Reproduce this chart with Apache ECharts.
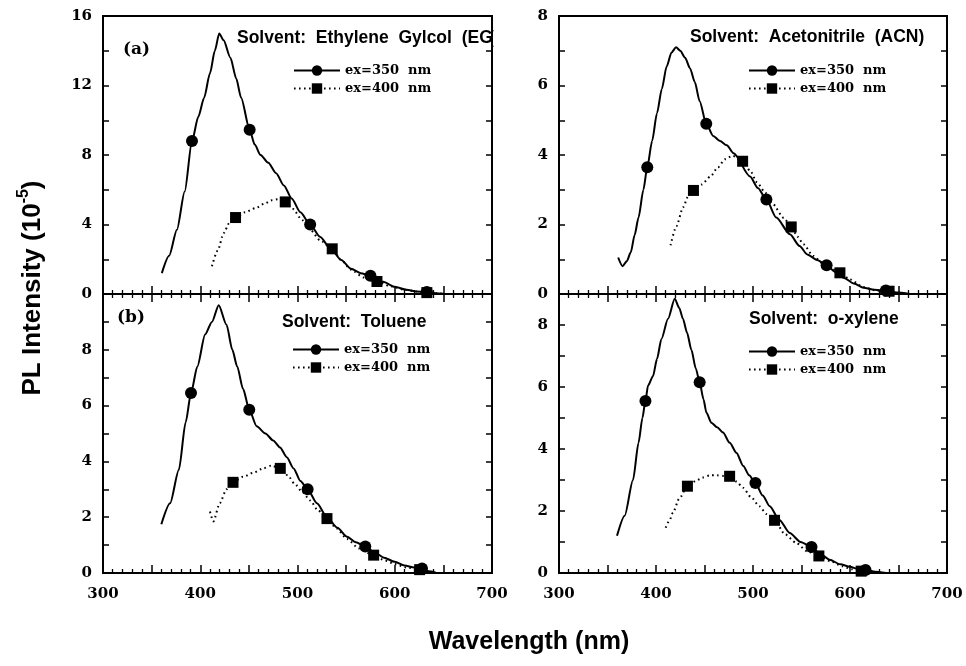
<!DOCTYPE html>
<html>
<head>
<meta charset="utf-8">
<script src="https://cdn.jsdelivr.net/npm/echarts@6/dist/echarts.min.js"></script>
<style>
  html, body { margin: 0; padding: 0; background: #fff; }
  #chart { width: 966px; height: 666px; }
</style>
</head>
<body>
<div id="chart"></div>
<script>
// ---- Emission spectra, intensities in units of 1e-5 ----
// Each trace: a dense curve plus the points carrying markers.

// (a) Ethylene glycol
const egEx350Line = [[360.5,1.2],[368,2.2],[376,3.7],[384,5.9],[398,10.2],[404,11.3],[410,12.7],[415,14.0],[419.5,15.0],[424,14.6],[431,13.6],[437,12.4],[442,11.3],[456,8.6],[462,8.0],[470,7.55],[478,6.95],[486,6.25],[494,5.5],[503,4.7],[523,3.3],[534,2.62],[545,1.95],[555,1.45],[565,1.2],[588,0.7],[600,0.42],[612,0.25],[622,0.15],[642,0.05],[650,0.02]];
const egEx350Marks = [[391.5,8.8],[450.8,9.45],[513,4.0],[575,1.05],[633,0.12]];
const egEx400Line = [[412,1.6],[418,2.5],[424,3.5],[430,4.1],[446,4.7],[457,4.95],[466,5.2],[474,5.4],[480,5.45],[495,4.9],[505,4.25],[514,3.65],[523,3.1],[545,1.95],[555,1.4],[568,0.95],[595,0.45],[610,0.25],[622,0.14],[645,0.03],[652,0]];
const egEx400Marks = [[436.3,4.4],[487.4,5.3],[535.7,2.6],[581.7,0.72],[633,0.08]];

// Acetonitrile
const acnEx350Line = [[361,1.05],[365.6,0.8],[370,0.95],[374,1.2],[378,1.7],[382,2.2],[387,3.0],[396,4.4],[401,5.2],[406,5.9],[411,6.55],[416,6.95],[420.7,7.1],[425,7.0],[430,6.8],[435,6.5],[440,6.1],[445,5.55],[459,4.55],[466,4.4],[473,4.28],[480,4.05],[497,3.38],[505,3.05],[524,2.2],[538,1.72],[548,1.38],[556,1.14],[566,0.98],[585,0.63],[594,0.46],[604,0.3],[614,0.18],[625,0.12],[648,0.04],[662,0]];
const acnEx350Marks = [[391,3.65],[451.8,4.9],[513.8,2.72],[575.9,0.83],[636.9,0.1]];
const acnEx400Line = [[415,1.4],[421,1.95],[428,2.5],[433,2.8],[447,3.15],[456,3.38],[464,3.65],[471,3.88],[479,3.98],[497,3.55],[504,3.22],[511,2.98],[520,2.6],[531.7,2.19],[546,1.65],[552,1.43],[562,1.1],[572,0.88],[580,0.74],[600,0.42],[614,0.2],[627,0.1],[656,0]];
const acnEx400Marks = [[438.6,2.98],[489.3,3.82],[539.4,1.93],[589.6,0.61],[640.3,0.08]];

// (b) Toluene
const tolEx350Line = [[360,1.75],[369,2.5],[378,3.7],[385,5.4],[397,7.4],[405,8.55],[412,9.0],[419,9.6],[427,8.9],[433,8.0],[438,7.4],[444,6.6],[458,5.26],[467,5.0],[475,4.75],[482,4.5],[489,4.15],[496,3.75],[503,3.3],[520,2.5],[530,2.02],[541,1.62],[551,1.3],[560,1.1],[580,0.72],[589,0.55],[600,0.4],[610,0.27],[620,0.2],[635,0.06],[642,0.02]];
const tolEx350Marks = [[390.5,6.45],[450.4,5.85],[510.4,3.0],[569.7,0.95],[628,0.16]];
const tolEx400Line = [[410,2.2],[413.5,1.85],[420,2.5],[427,3.0],[444,3.45],[455,3.6],[465,3.75],[473,3.85],[490,3.5],[497,3.2],[505,2.9],[513,2.6],[521,2.25],[540,1.6],[551,1.22],[563,0.88],[590,0.45],[600,0.32],[612,0.2],[635,0.04],[642,0]];
const tolEx400Marks = [[433.7,3.25],[482.3,3.75],[530.3,1.95],[578.3,0.64],[625.6,0.12]];

// o-Xylene
const oxyEx350Line = [[359.8,1.2],[367.7,1.85],[376.3,3.0],[382,4.2],[386,5.0],[391.8,6.05],[396.9,6.35],[401,6.9],[405.6,7.55],[412.4,8.2],[419.3,8.85],[424,8.55],[427.8,8.2],[432,7.75],[436.5,7.2],[441,6.6],[449,5.6],[451.9,5.18],[457.1,4.85],[463,4.7],[469.1,4.53],[476,4.2],[482.9,3.88],[490,3.45],[496,3.15],[510,2.5],[517.3,2.15],[527,1.72],[537.9,1.29],[549,1.0],[570,0.6],[579,0.43],[590,0.28],[600,0.2],[608,0.13],[626,0.04],[637,0]];
const oxyEx350Marks = [[389.1,5.55],[445,6.15],[502.5,2.9],[560.3,0.84],[616,0.1]];
const oxyEx400Line = [[410,1.46],[414,1.7],[417.5,1.95],[424,2.4],[441.6,2.98],[448,3.08],[455.4,3.15],[463,3.15],[470,3.13],[483,2.95],[489.6,2.75],[498,2.45],[506.7,2.15],[514,1.9],[533,1.25],[544.5,0.97],[556,0.7],[580,0.38],[592,0.22],[602,0.12],[620,0.02],[627,0]];
const oxyEx400Marks = [[432.4,2.8],[475.9,3.12],[522.2,1.7],[567.9,0.55],[611.5,0.06]];

// Series names, panel titles and tick labels
const seriesNames = ['ex=350  nm', 'ex=400  nm'];
const panelTitles = ['Solvent:  Ethylene  Gylcol  (EG)', 'Solvent:  Acetonitrile  (ACN)', 'Solvent:  Toluene', 'Solvent:  o-xylene'];
const panelTags = ['(a)', '', '(b)', ''];
const xTickLabels = [300, 400, 500, 600, 700];
const egYTickLabels = [0, 4, 8, 12, 16];
const acnYTickLabels = [0, 2, 4, 6, 8];
const tolYTickLabels = [0, 2, 4, 6, 8];
const oxyYTickLabels = [0, 2, 4, 6, 8];

// ---- Layout ----
const panels = [
  { left: 103, top: 16,  width: 389, height: 278, yMax: 16, yStep: 2, yLabels: egYTickLabels,  showX: false,
    ex350: [egEx350Line, egEx350Marks], ex400: [egEx400Line, egEx400Marks],
    title: { x: 237, y: 39 }, tag: { x: 123, y: 51 }, legend: { x: 293, y: 64 } },
  { left: 559, top: 16,  width: 388, height: 278, yMax: 8,  yStep: 1, yLabels: acnYTickLabels, showX: false,
    ex350: [acnEx350Line, acnEx350Marks], ex400: [acnEx400Line, acnEx400Marks],
    title: { x: 690, y: 38 }, tag: null, legend: { x: 748, y: 64 } },
  { left: 103, top: 294, width: 389, height: 279, yMax: 10, yStep: 1, yLabels: tolYTickLabels, showX: true,
    ex350: [tolEx350Line, tolEx350Marks], ex400: [tolEx400Line, tolEx400Marks],
    title: { x: 282, y: 323 }, tag: { x: 117, y: 319 }, legend: { x: 292, y: 343 } },
  { left: 559, top: 294, width: 388, height: 279, yMax: 9,  yStep: 1, yLabels: oxyYTickLabels, showX: true,
    ex350: [oxyEx350Line, oxyEx350Marks], ex400: [oxyEx400Line, oxyEx400Marks],
    title: { x: 749, y: 320 }, tag: null, legend: { x: 748, y: 345 } }
];

const SERIF = '"DejaVu Serif", "Liberation Serif", serif';
const SANS = '"Liberation Sans", Arial, sans-serif';

// Merge curve and marker points; only marker points get a symbol.
function traceData(line, marks) {
  const pts = line.map(p => ({ value: p, symbol: 'none' }))
    .concat(marks.map(p => ({ value: p })));
  pts.sort((a, b) => a.value[0] - b.value[0]);
  return pts;
}

const grid = [], xAxis = [], yAxis = [], series = [], legend = [], graphic = [];

panels.forEach((p, i) => {
  grid.push({ left: p.left, top: p.top, width: p.width, height: p.height, show: true,
              borderColor: '#000', borderWidth: 2, backgroundColor: 'transparent', outerBoundsMode: 'none' });

  // bottom x axis
  xAxis.push({
    type: 'value', gridIndex: i, min: 300, max: 700, interval: 50, position: 'bottom',
    axisLine: { show: true, onZero: false, lineStyle: { color: '#000', width: 2 } },
    axisTick: { show: true, inside: true, length: 8, lineStyle: { color: '#000', width: 1.5 } },
    minorTick: { show: true, splitNumber: 5, length: 4, lineStyle: { color: '#000', width: 1.3 } },
    splitLine: { show: false },
    axisLabel: {
      show: p.showX, margin: 14, color: '#000', fontFamily: SERIF, fontWeight: 'bold', fontSize: 15,
      formatter: v => (xTickLabels.indexOf(v) >= 0 ? String(v) : '')
    }
  });
  // left y axis
  yAxis.push({
    type: 'value', gridIndex: i, min: 0, max: p.yMax, interval: p.yStep, position: 'left',
    axisLine: { show: true, onZero: false, lineStyle: { color: '#000', width: 2 } },
    axisTick: { show: true, inside: true, length: 6, lineStyle: { color: '#000', width: 1.5 } },
    splitLine: { show: false },
    axisLabel: {
      margin: 11, color: '#000', fontFamily: SERIF, fontWeight: 'bold', fontSize: 15,
      formatter: v => (p.yLabels.indexOf(v) >= 0 ? String(v) : '')
    }
  });

  const styles = [
    { name: seriesNames[0], trace: p.ex350, symbol: 'circle', size: 12, line: { color: '#000', width: 2, type: 'solid' } },
    { name: seriesNames[1], trace: p.ex400, symbol: 'rect', size: 11, line: { color: '#000', width: 2, type: [1.6, 3.4] } }
  ];
  styles.forEach(s => {
    series.push({
      type: 'line', name: s.name, xAxisIndex: i, yAxisIndex: i,
      data: traceData(s.trace[0], s.trace[1]),
      smooth: 0.25, smoothMonotone: 'x',
      symbol: s.symbol, symbolSize: s.size, showSymbol: true, showAllSymbol: true,
      lineStyle: s.line, itemStyle: { color: '#000' },
      emphasis: { disabled: true }, animation: false
    });
  });

  legend.push({
    orient: 'vertical', left: p.legend.x, top: p.legend.y, data: seriesNames,
    itemWidth: 46, itemHeight: 13, itemGap: 5, selectedMode: false, padding: 0,
    textStyle: { color: '#000', fontFamily: SERIF, fontWeight: 'bold', fontSize: 13 }
  });

  graphic.push({
    type: 'text', left: p.title.x, top: p.title.y - 10, z: 10,
    style: { text: panelTitles[i], fill: '#000', font: 'bold 17.5px ' + SANS }
  });
  if (p.tag) {
    graphic.push({
      type: 'text', left: p.tag.x, top: p.tag.y - 10, z: 10,
      style: { text: panelTags[i], fill: '#000', font: 'bold 17px ' + SERIF }
    });
  }
});

// the long EG title runs into the frame; blank what spills past it
graphic.push({
  type: 'rect', left: 493.5, top: 26, z: 20,
  shape: { width: 16, height: 28 }, style: { fill: '#fff' }
});

// mirrored tick axes on the top and right edges
panels.forEach((p, i) => {
  xAxis.push({
    type: 'value', gridIndex: i, min: 300, max: 700, interval: 50, position: 'top',
    axisLine: { show: false },
    axisTick: { show: !p.showX, inside: true, length: 8, lineStyle: { color: '#000', width: 1.5 } },
    minorTick: { show: !p.showX, splitNumber: 5, length: 4, lineStyle: { color: '#000', width: 1.3 } },
    splitLine: { show: false }, axisLabel: { show: false }
  });
  yAxis.push({
    type: 'value', gridIndex: i, min: 0, max: p.yMax, interval: p.yStep, position: 'right',
    axisLine: { show: false },
    axisTick: { show: true, inside: true, length: 6, lineStyle: { color: '#000', width: 1.5 } },
    splitLine: { show: false }, axisLabel: { show: false }
  });
});

// shared axis titles
graphic.push({
  type: 'text', x: 31, y: 288, rotation: Math.PI / 2, z: 10,
  style: {
    text: '{t|PL Intensity (10}{s|-5}{t|)}',
    align: 'center', verticalAlign: 'middle',
    rich: {
      t: { fontFamily: SANS, fontWeight: 'bold', fontSize: 26, lineHeight: 30, fill: '#000', verticalAlign: 'bottom' },
      s: { fontFamily: SANS, fontWeight: 'bold', fontSize: 16, lineHeight: 16, fill: '#000', verticalAlign: 'top' }
    }
  }
});
graphic.push({
  type: 'text', x: 529, y: 642, z: 10,
  style: { text: 'Wavelength (nm)', align: 'center', verticalAlign: 'middle', fill: '#000', font: 'bold 25px ' + SANS }
});

const chart = echarts.init(document.getElementById('chart'), null, { renderer: 'canvas' });
chart.setOption({
  backgroundColor: '#fff',
  animation: false,
  grid, xAxis, yAxis, series, legend, graphic
});
</script>
</body>
</html>
